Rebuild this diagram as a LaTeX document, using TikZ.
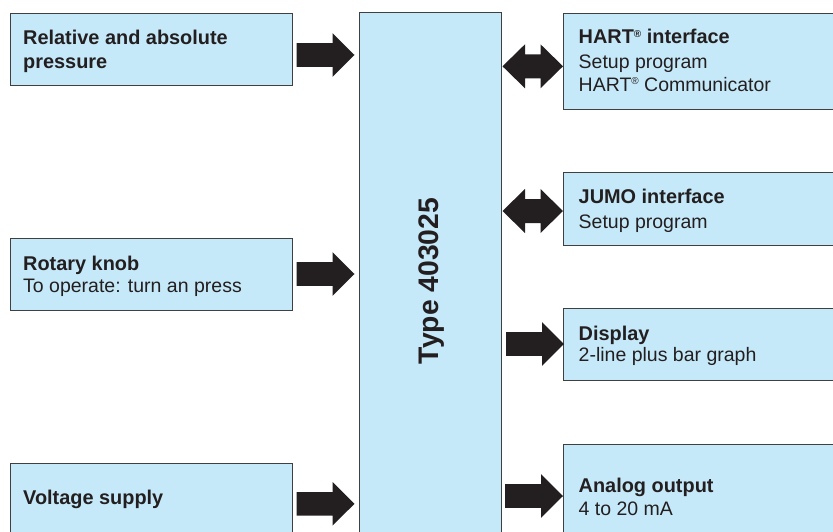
\documentclass[tikz,border=0pt]{standalone}
\usepackage{fontspec}
\setmainfont{Liberation Sans}
\usetikzlibrary{calc}
\definecolor{boxblue}{RGB}{198,233,249}
\definecolor{ink}{RGB}{35,31,32}
\definecolor{frame}{RGB}{64,64,64}
\newcommand\regmark{\raisebox{6.8pt}{\fontsize{10}{10}\selectfont\textregistered}}
\begin{document}
\begin{tikzpicture}[x=1pt,y=-1pt,
  blk/.style={draw=frame, line width=1pt, fill=boxblue, anchor=north west, inner sep=0pt, outer sep=0pt},
  hd/.style={anchor=base west, inner sep=0pt, text=ink, font=\fontsize{19.9}{23}\selectfont\bfseries},
  tx/.style={anchor=base west, inner sep=0pt, text=ink, font=\fontsize{19.5}{23}\selectfont},
  rarr/.pic={\fill[ink] (0,-11.8) -- (36,-11.8) -- (36,-21.8) -- (58,0) -- (36,21.8) -- (36,11.8) -- (0,11.8) -- cycle;},
  darr/.pic={\fill[ink] (0,0) -- (-22.5,-22) -- (-22.5,-12) -- (-38,-12) -- (-38,-22) -- (-60.5,0) -- (-38,22) -- (-38,12) -- (-22.5,12) -- (-22.5,22) -- cycle;}]
\useasboundingbox (0,0) rectangle (833,532);
\clip (0,0) rectangle (833,532);
\fill[white] (0,0) rectangle (833,532);

% left boxes
\node[blk, minimum width=282, minimum height=72] (b1) at (10,14) {};
\node[blk, minimum width=282, minimum height=72] (b2) at (10,238) {};
\node[blk, minimum width=282, minimum height=76] (b3) at (10,463.5) {};

% central box
\node[blk, minimum width=141.5, minimum height=560] (core) at (359.5,13) {};
\node[anchor=base, rotate=90, inner sep=0pt, text=ink, font=\fontsize{28.3}{30}\selectfont\bfseries] (lbl) at (438,281) {Type 403025};

% right boxes
\node[blk, minimum width=340, minimum height=96] (hart) at (563,14) {};
\node[blk, minimum width=340, minimum height=72] (jumo) at (563,173) {};
\node[blk, minimum width=340, minimum height=72] (disp) at (563,308) {};
\node[blk, minimum width=340, minimum height=120] (anal) at (563,444) {};

% texts left
\node[hd] (t1a) at (23,45) {Relative and absolute};
\node[hd] (t1b) at (23,68.3) {pressure};
\node[hd] (t2a) at (23,270) {Rotary knob};
\node[tx] (t2b) at (23,292.3) {To operate: turn an press};
\node[hd] (t3a) at (23,504) {Voltage supply};

% texts right
\node[hd] (t4a) at (578.5,44) {HART\regmark\ interface};
\node[tx] (t4b) at (578.5,68.3) {Setup program};
\node[tx] (t4c) at (578.5,91.7) {HART\regmark\ Communicator};
\node[hd] (t5a) at (578.5,204) {JUMO interface};
\node[tx] (t5b) at (578.5,228.3) {Setup program};
\node[hd] (t6a) at (578.5,340) {Display};
\node[tx] (t6b) at (578.5,361.7) {2-line plus bar graph};
\node[hd] (t7a) at (578.5,492) {Analog output};
\node[tx] (t7b) at (578.5,515) {4 to 20 mA};

% arrows
\pic at ($(b1.east)+(4.5,5)$) {rarr};
\pic at ($(b2.east)+(4.5,0)$) {rarr};
\pic at ($(b3.east)+(4.5,2.3)$) {rarr};
\pic at ($(hart.west)+(0,4.3)$) {darr};
\pic at ($(jumo.west)+(0,2)$) {darr};
\pic at ($(disp.west)+(-57,0)$) {rarr};
\pic at ($(anal.west)+(-58,-8)$) {rarr};
\end{tikzpicture}
\end{document}
